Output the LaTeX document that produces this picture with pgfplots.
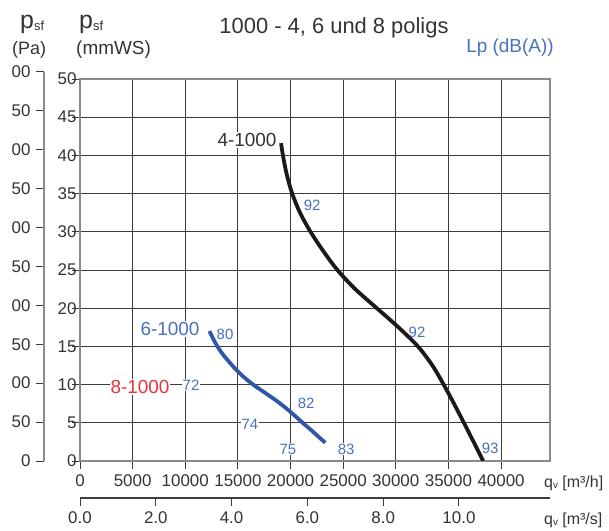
\documentclass[border=0pt]{standalone}
\usepackage{fontspec}
\setmainfont{Liberation Sans}
\usepackage{pgfplots}
\pgfplotsset{compat=1.18}
\definecolor{txt}{HTML}{333333}
\definecolor{grd}{HTML}{3C3C3C}
\definecolor{frm}{HTML}{8A8A8A}
\definecolor{lblue}{HTML}{4A70BE}
\definecolor{cblue}{HTML}{2F57A6}
\definecolor{cred}{HTML}{E8343E}
\definecolor{cblack}{HTML}{1A1A1A}
\newcommand{\fs}[1]{\fontsize{#1}{#1}\selectfont}
\begin{document}
\begin{tikzpicture}
% Pa axis
\begin{axis}[at={(-36bp,0)}, anchor=south west, scale only axis,
  width=10bp, height=389.4bp, xmin=0, xmax=1, ymin=0, ymax=500,
  axis y line*=left, axis x line=none,
  ytick={0,50,...,500}, ytick pos=left, tick align=outside,
  major tick length=8bp, tick style={grd, line width=1bp},
  axis line style={frm, line width=1.5bp},
  yticklabel style={font=\fs{17}, text=txt, xshift=-2bp},
  /pgf/number format/assume math mode=true]
\addplot[draw=none] coordinates {(0,0)};
\end{axis}
% m3/s axis
\begin{axis}[at={(0,-37bp)}, anchor=south west, scale only axis,
  width=470bp, height=5bp, xmin=0, xmax=12.403, ymin=0, ymax=1,
  axis x line*=bottom, axis y line=none,
  xtick={0,2,...,10}, xtick pos=bottom, tick align=outside,
  major tick length=8bp, tick style={grd, line width=1bp},
  axis line style={grd, line width=1.2bp},
  xticklabel style={font=\fs{17}, text=txt, yshift=-2bp},
  /pgf/number format/assume math mode=true,
  xticklabel={\pgfmathprintnumber[fixed, fixed zerofill, precision=1]{\tick}}]
\addplot[draw=none] coordinates {(0,0)};
\end{axis}
% main axis
\begin{axis}[at={(0,0)}, anchor=south west, scale only axis,
  width=470bp, height=382bp,
  xmin=0, xmax=44650, ymin=0, ymax=50,
  xtick={0,5000,...,40000}, ytick={0,5,...,50},
  xtick pos=bottom, ytick pos=left,
  grid=major, grid style={grd, line width=0.9bp},
  tick style={grd, line width=0.9bp},
  major tick length=8bp, tick align=outside,
  axis line style={frm, line width=1.2bp},
  tick label style={font=\fs{17}, text=txt},
  /pgf/number format/assume math mode=true,
  /pgf/number format/set thousands separator={},
  scaled x ticks=false,
  xticklabel style={yshift=-2bp},
  yticklabel style={xshift=8bp}]
\addplot[cblack, line width=3.8bp, smooth, tension=0.5] coordinates {
 (19100,41.6) (19280,40) (19640,37.5) (20160,35) (20900,32.5) (21900,30)
 (23100,27.5) (24450,25) (26150,22.5) (28200,20) (30250,17.5) (32100,15)
 (33480,12.5) (34550,10) (35530,7.5) (36470,5) (37390,2.5) (38300,0)};
\addplot[cblue, line width=3.8bp, smooth, tension=0.5] coordinates {
 (12300,17.0) (12650,16) (13050,15) (13550,14) (14150,13) (14800,12)
 (15550,11) (16450,10) (17500,9) (18550,8) (19500,7) (20350,6)
 (21150,5) (22000,4) (22800,3) (23300,2.4)};
% curve labels
\node[fill=white, inner sep=1bp, text=txt, font=\fs{19}] at (axis cs:15870,42.0) {4-1000};
\node[fill=white, inner sep=1bp, text=lblue, font=\fs{19}] at (axis cs:8550,17.3) {6-1000};
\node[fill=white, inner sep=1bp, text=cred, font=\fs{19}] at (axis cs:5700,9.7) {8-1000};
\tikzset{sl/.style={fill=white, inner sep=1bp, text=lblue, font=\fs{15}}}
\node[sl] at (axis cs:10550,9.95) {72};
\node[sl] at (axis cs:13780,16.6) {80};
\node[sl] at (axis cs:16150,4.85) {74};
\node[sl, fill=none] at (axis cs:21480,7.6) {82};
\node[sl] at (axis cs:19760,1.57) {75};
\node[sl] at (axis cs:25280,1.57) {83};
\node[sl, fill=none] at (axis cs:38960,1.7) {93};
\node[sl, fill=none] at (axis cs:22050,33.4) {92};
\node[sl, fill=none] at (axis cs:32020,16.9) {92};
\end{axis}
% crop of Pa tick labels
\fill[white] (-81bp,-6bp) rectangle (-68bp,396bp);
% titles and axis names
\node[text=txt, font=\fs{22}] at (254bp,433bp) {1000 - 4, 6 und 8 poligs};
\node[text=lblue, font=\fs{19}] at (430bp,413bp) {Lp (dB(A))};
\node[anchor=base west, inner sep=0, text=txt] at (-60bp,432bp) {\fs{25}p\raisebox{-1.5bp}{\fs{13}sf}};
\node[anchor=base west, inner sep=0, text=txt, font=\fs{18}] at (-68bp,406bp) {(Pa)};
\node[anchor=base west, inner sep=0, text=txt] at (-1bp,432bp) {\fs{25}p\raisebox{-1.5bp}{\fs{13}sf}};
\node[anchor=base west, inner sep=0, text=txt, font=\fs{19}] at (-4bp,406bp) {(mmWS)};
\node[anchor=west, inner sep=0, text=txt, font=\fs{16}] at (464bp,-22bp) {q\raisebox{-1.5bp}{\fs{10}v} [m³/h]};
\node[anchor=west, inner sep=0, text=txt, font=\fs{16}] at (464bp,-59bp) {q\raisebox{-1.5bp}{\fs{10}v} [m³/s]};
\pgfresetboundingbox
\path[use as bounding box] (-80bp,-70bp) rectangle (529bp,461bp);
\end{tikzpicture}
\end{document}
